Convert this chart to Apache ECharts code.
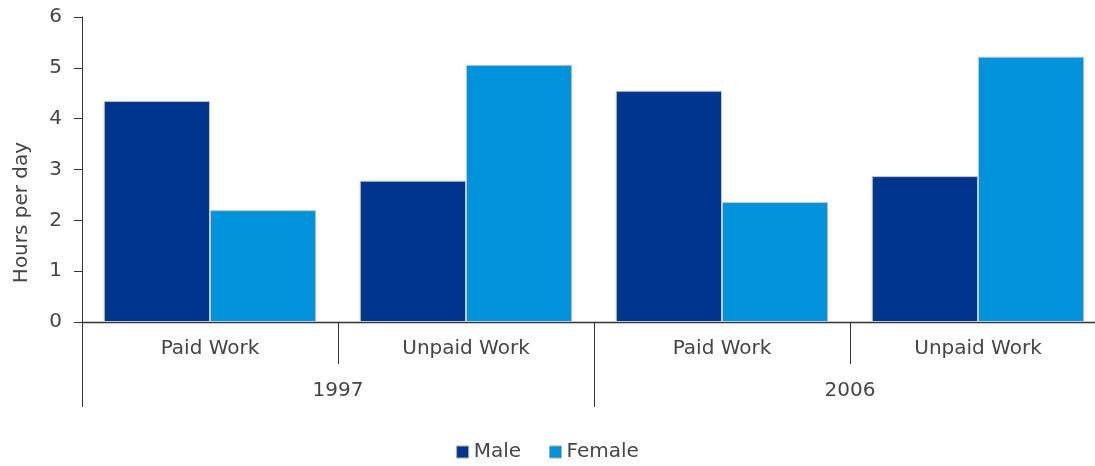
<!DOCTYPE html>
<html>
<head>
<meta charset="utf-8">
<script src="https://cdn.jsdelivr.net/npm/echarts@6/dist/echarts.min.js"></script>
<style>
  html, body { margin: 0; padding: 0; background: #fff; }
  #chart { width: 1095px; height: 466px; }
</style>
</head>
<body>
<div id="chart"></div>
<script>
// data
const workTypes = ['Paid Work', 'Unpaid Work', 'Paid Work', 'Unpaid Work'];
const years = ['1997', '2006'];
const male = [4.35, 2.78, 4.55, 2.87];
const female = [2.2, 5.06, 2.36, 5.22];
const yTicks = [0, 1, 2, 3, 4, 5, 6];

const myChart = echarts.init(document.getElementById('chart'));
const txt = '#454545';
const font = 'DejaVu Sans, sans-serif';

myChart.setOption({
    animation: false,
    textStyle: { fontFamily: font },
    // plot runs past the right edge, as in the picture
    grid: { left: 82, width: 1024, top: 17, bottom: 144, outerBoundsMode: 'none', containLabel: false },
    legend: {
        bottom: 4,
        left: 'center',
        padding: 0,
        itemWidth: 12,
        itemHeight: 12,
        itemGap: 28,
        icon: 'rect',
        itemStyle: { borderColor: '#aaa', borderWidth: 1 },
        textStyle: { fontSize: 20, color: txt, fontFamily: font },
        data: ['Male', 'Female']
    },
    xAxis: [
        {
            type: 'category',
            data: workTypes,
            axisLine: { lineStyle: { color: '#333', width: 1.3 } },
            axisTick: { show: true, interval: 0, length: 42, lineStyle: { color: '#333' } },
            axisLabel: { fontSize: 20, color: txt, margin: 17, interval: 0 }
        },
        {
            type: 'category',
            data: years,
            position: 'bottom',
            axisLine: { show: false },
            axisTick: { show: true, interval: 0, length: 85, lineStyle: { color: '#333' } },
            axisLabel: { fontSize: 20, color: txt, margin: 59, interval: 0 }
        }
    ],
    yAxis: {
        type: 'value',
        min: yTicks[0],
        max: yTicks[yTicks.length - 1],
        interval: 1,
        name: 'Hours per day',
        nameLocation: 'middle',
        nameGap: 50,
        nameTextStyle: { fontSize: 20, color: txt, padding: [0, 86, 0, 0] },
        splitLine: { show: false },
        axisLine: { show: true, lineStyle: { color: '#333' } },
        axisTick: { show: true, length: 8, lineStyle: { color: '#333' } },
        axisLabel: { fontSize: 20, color: txt, margin: 20 }
    },
    series: [
        {
            name: 'Male',
            type: 'bar',
            data: male,
            barGap: '0%',
            barCategoryGap: '17%',
            itemStyle: { color: '#00358e', borderColor: '#c8c8c8', borderWidth: 1 }
        },
        {
            name: 'Female',
            type: 'bar',
            data: female,
            itemStyle: { color: '#0092da', borderColor: '#c8c8c8', borderWidth: 1 }
        }
    ]
});
</script>
</body>
</html>
